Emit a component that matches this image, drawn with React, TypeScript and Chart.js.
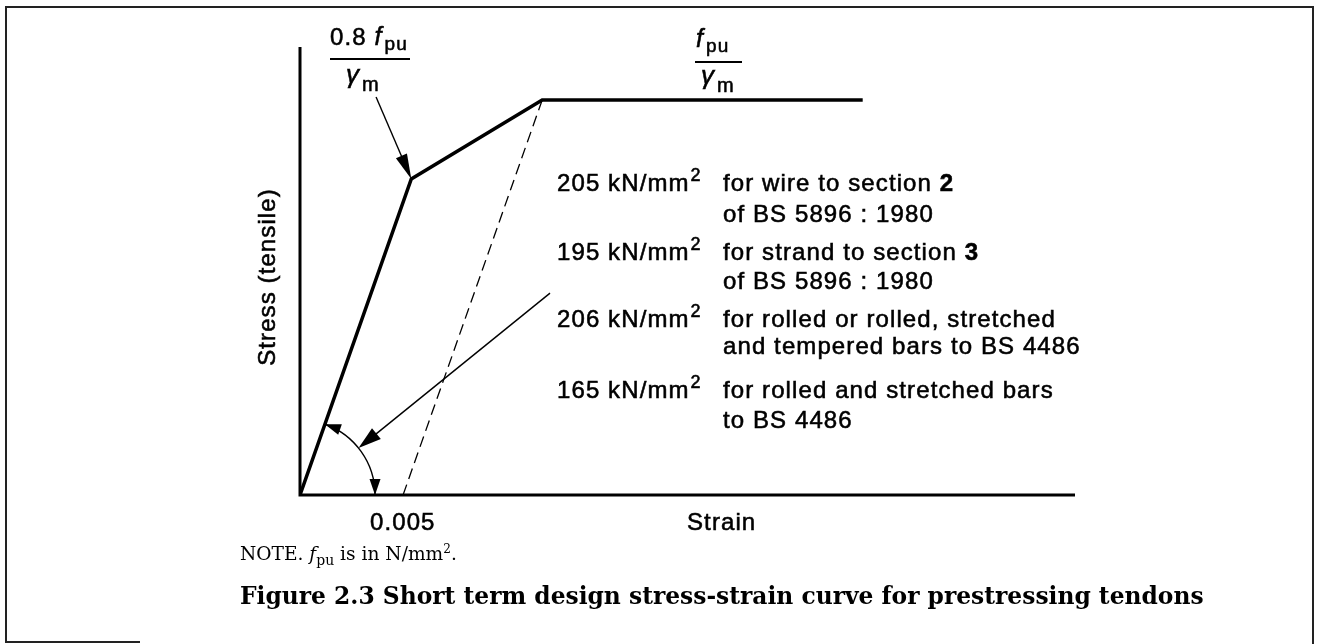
import React, { useEffect, useRef } from "react";
import { Chart, registerables } from "chart.js";

Chart.register(...registerables);

// ---- data (strain, stress as a fraction of f_pu / gamma_m) ----
const curveStrain = [0, 0.0054, 0.01175, 0.0273];
const curveStress = [0, 0.8, 1.0, 1.0];
const offsetStrain = [0.005, 0.01175];
const offsetStress = [0, 1.0];
const strainMax = 0.0376;
const stressMax = 1.134;
const xTickLabel = "0.005";
const xTitle = "Strain";
const yTitle = "Stress (tensile)";
const moduli = ["205 kN/mm", "195 kN/mm", "206 kN/mm", "165 kN/mm"];
const descFirst = ["for wire to section ", "for strand to section ", "for rolled or rolled, stretched", "for rolled and stretched bars"];
const descBold = ["2", "3", "", ""];
const descSecond = ["of BS 5896 : 1980", "of BS 5896 : 1980", "and tempered bars to BS 4486", "to BS 4486"];
const noteText = ["NOTE. ", "f", "pu", " is in N/mm", "2", "."];
const captionText = "Figure 2.3 Short term design stress-strain curve for prestressing tendons";

// annotation anchors (data units)
const kneeLabelArrowFrom = [0.00369, 1.0076];
const pointerFrom = [0.01213, 0.511];
const pointerAngleDeg = 38.7;
const arcRadiusStrain = 0.00364;

const SANS = '"Liberation Sans", Arial, sans-serif';
const SERIF = '"DejaVu Serif", "Liberation Serif", serif';

function arrowHead(ctx: CanvasRenderingContext2D, tx: number, ty: number, dx: number, dy: number, len: number, hw: number) {
  const l = Math.hypot(dx, dy);
  dx /= l; dy /= l;
  const bx = tx - dx * len, by = ty - dy * len;
  ctx.beginPath();
  ctx.moveTo(tx, ty);
  ctx.lineTo(bx - dy * hw, by + dx * hw);
  ctx.lineTo(bx + dy * hw, by - dx * hw);
  ctx.closePath();
  ctx.fill();
}

type Run = { t: string; f: string; dy?: number; gap?: number };
function drawRuns(ctx: CanvasRenderingContext2D, x: number, y: number, runs: Run[], spacing = "0px", stroke = 0) {
  let cx = x;
  for (const r of runs) {
    ctx.font = r.f;
    (ctx as any).letterSpacing = spacing;
    ctx.fillText(r.t, cx, y + (r.dy || 0));
    if (stroke > 0) {
      ctx.lineWidth = stroke;
      ctx.strokeText(r.t, cx, y + (r.dy || 0));
    }
    cx += ctx.measureText(r.t).width + (r.gap || 0);
  }
  return cx;
}

type FRun = { t: string; size: number; style?: string; dy?: number };
function drawFitted(ctx: CanvasRenderingContext2D, x: number, y: number, runs: FRun[], family: string, target: number) {
  (ctx as any).letterSpacing = "0px";
  let w = 0;
  for (const r of runs) {
    ctx.font = `${r.style || ""} ${r.size}px ${family}`.trim();
    w += ctx.measureText(r.t).width;
  }
  const k = target / w;
  let cx = x;
  for (const r of runs) {
    ctx.font = `${r.style || ""} ${r.size * k}px ${family}`.trim();
    ctx.fillText(r.t, cx, y + (r.dy || 0) * k);
    cx += ctx.measureText(r.t).width;
  }
}

const overlay = {
  id: "overlay",
  afterDatasetsDraw(chart: any) {
    const ctx: CanvasRenderingContext2D = chart.ctx;
    const { left, right, top, bottom } = chart.chartArea;
    const xs = chart.scales.x, ys = chart.scales.y;
    const P = (a: number, b: number) => [xs.getPixelForValue(a), ys.getPixelForValue(b)];
    ctx.save();
    ctx.fillStyle = "#000";
    ctx.strokeStyle = "#000";
    ctx.lineCap = "butt";

    // frame
    ctx.lineWidth = 2;
    ctx.strokeStyle = "#222";
    ctx.beginPath();
    ctx.moveTo(140, 642);
    ctx.lineTo(6, 642);
    ctx.lineTo(6, 7);
    ctx.lineTo(1313, 7);
    ctx.lineTo(1313, 644);
    ctx.stroke();

    // axes
    ctx.strokeStyle = "#000";
    ctx.lineWidth = 3;
    ctx.beginPath();
    ctx.moveTo(left, top);
    ctx.lineTo(left, bottom);
    ctx.lineTo(right, bottom);
    ctx.stroke();

    const [ox, oy] = P(0, 0);
    const [kx, ky] = P(curveStrain[1], curveStress[1]);
    const a1 = Math.atan2(ky - oy, kx - ox);
    const R = xs.getPixelForValue(arcRadiusStrain) - ox;
    ctx.lineWidth = 1.4;
    ctx.beginPath();
    ctx.arc(ox, oy, R, a1, 0);
    ctx.stroke();
    const hx1 = ox + R * Math.cos(a1), hy1 = oy + R * Math.sin(a1);
    arrowHead(ctx, hx1, hy1, Math.sin(a1), -Math.cos(a1), 16, 5.5);
    arrowHead(ctx, ox + R, oy, 0, 1, 16, 5.5);

    // pointer to the arc
    const pa = (pointerAngleDeg * Math.PI) / 180;
    const tx = ox + R * Math.cos(pa), ty = oy - R * Math.sin(pa);
    const [fx, fy] = P(pointerFrom[0], pointerFrom[1]);
    ctx.beginPath();
    ctx.moveTo(fx, fy);
    ctx.lineTo(tx - (tx - fx) * 0.05, ty - (ty - fy) * 0.05);
    ctx.stroke();
    arrowHead(ctx, tx, ty, tx - fx, ty - fy, 23, 7);

    // pointer from 0.8 fpu label to knee
    const [gx, gy] = P(kneeLabelArrowFrom[0], kneeLabelArrowFrom[1]);
    ctx.beginPath();
    ctx.moveTo(gx, gy);
    ctx.lineTo(kx - (kx - gx) * 0.1, ky - (ky - gy) * 0.1);
    ctx.stroke();
    arrowHead(ctx, kx, ky, kx - gx, ky - gy, 25, 6);

    // text
    const F = (s: number, w = "") => `${w} ${s}px ${SANS}`.trim();
    const sp = "1.1px";
    const st = 0.55;
    ctx.textBaseline = "alphabetic";
    ctx.textAlign = "left";

    // fraction labels
    drawRuns(ctx, 330, 45, [
      { t: "0.8 ", f: F(24) },
      { t: "f", f: `italic 25px ${SANS}`, gap: 2 },
      { t: "pu", f: F(19), dy: 5 },
    ], sp, st);
    ctx.lineWidth = 1.8;
    ctx.beginPath(); ctx.moveTo(330, 59); ctx.lineTo(410, 59); ctx.stroke();
    drawRuns(ctx, 346, 83, [
      { t: "\u03b3", f: `italic 26px ${SANS}`, gap: 3 },
      { t: "m", f: F(20), dy: 8 },
    ], "0px", st);

    drawRuns(ctx, 696, 47, [
      { t: "f", f: `italic 25px ${SANS}`, gap: 2 },
      { t: "pu", f: F(19), dy: 5 },
    ], sp, st);
    ctx.lineWidth = 1.8;
    ctx.beginPath(); ctx.moveTo(695, 62); ctx.lineTo(742, 62); ctx.stroke();
    drawRuns(ctx, 701, 84, [
      { t: "\u03b3", f: `italic 26px ${SANS}`, gap: 3 },
      { t: "m", f: F(20), dy: 8 },
    ], "0px", st);

    // moduli block
    const base1 = [191, 260, 327, 398];
    const base2 = [222, 289, 354, 428];
    for (let i = 0; i < moduli.length; i++) {
      drawRuns(ctx, 557, base1[i], [
        { t: moduli[i], f: F(24), gap: 1 },
        { t: "2", f: F(18), dy: -10 },
      ], sp, st);
      drawRuns(ctx, 723, base1[i], [
        { t: descFirst[i], f: F(24) },
        { t: descBold[i], f: F(24, "bold") },
      ], sp, st);
      drawRuns(ctx, 723, base2[i], [{ t: descSecond[i], f: F(24) }], sp, st);
    }

    // axis labels
    drawRuns(ctx, 370, 530, [{ t: xTickLabel, f: F(24) }], sp, st);
    drawRuns(ctx, 687, 530, [{ t: xTitle, f: F(24) }], sp, st);
    ctx.save();
    ctx.translate(275, 277);
    ctx.rotate(-Math.PI / 2);
    ctx.textAlign = "center";
    ctx.font = F(24);
    (ctx as any).letterSpacing = sp;
    ctx.fillText(yTitle, 0, 0);
    ctx.lineWidth = st;
    ctx.strokeText(yTitle, 0, 0);
    ctx.restore();

    // note
    ctx.textAlign = "left";
    drawFitted(ctx, 240, 560, [
      { t: noteText[0], size: 20 },
      { t: noteText[1], size: 20, style: "italic" },
      { t: noteText[2], size: 15, dy: 5 },
      { t: noteText[3], size: 20 },
      { t: noteText[4], size: 13, dy: -8 },
      { t: noteText[5], size: 20 },
    ], SERIF, 217);

    // caption fitted to width
    drawFitted(ctx, 240, 604, [{ t: captionText, size: 24, style: "bold" }], SERIF, 964);

    ctx.restore();
  },
};

export default function App() {
  const ref = useRef<HTMLCanvasElement>(null);
  useEffect(() => {
    document.body.style.margin = "0";
    const canvas = ref.current!;
    const chart = new Chart(canvas, {
      type: "scatter",
      data: {
        datasets: [
          {
            data: curveStrain.map((x, i) => ({ x, y: curveStress[i] })),
            showLine: true,
            borderColor: "#000",
            borderWidth: 3.5,
            pointRadius: 0,
            borderJoinStyle: "miter",
          },
          {
            data: offsetStrain.map((x, i) => ({ x, y: offsetStress[i] })),
            showLine: true,
            borderColor: "#000",
            borderWidth: 1.3,
            borderDash: [11, 6],
            pointRadius: 0,
          },
        ],
      },
      options: {
        responsive: false,
        animation: false,
        devicePixelRatio: 1,
        events: [],
        layout: { padding: { left: 300, right: 247, top: 47, bottom: 149 } },
        plugins: { legend: { display: false }, tooltip: { enabled: false } },
        scales: {
          x: { type: "linear", min: 0, max: strainMax, display: false },
          y: { type: "linear", min: 0, max: stressMax, display: false },
        },
      },
      plugins: [overlay],
    } as any);
    return () => chart.destroy();
  }, []);
  return <canvas ref={ref} width={1322} height={644} style={{ display: "block" }} />;
}
